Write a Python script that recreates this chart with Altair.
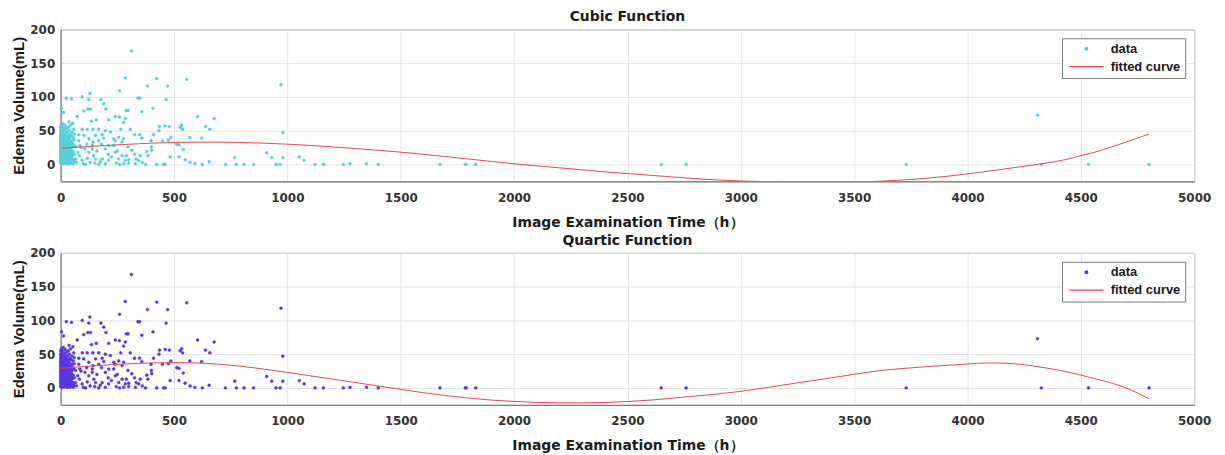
import altair as alt
import pandas as pd

# ---- scatter data (image examination time in h, edema volume in mL) ----
time_h = [
    # dense cluster near 0 h
    0, 0, 0, 0, 0, 0, 0, 0, 0, 0, 0, 0, 0, 0, 0, 0,
    2, 2, 2, 2, 2, 2, 3,
    4, 4, 4, 4, 4, 4, 4,
    6, 6, 6, 6, 6, 6,
    8, 8, 8, 8, 8, 8,
    10, 10, 10, 10, 10, 10,
    12, 12, 12, 12, 12,
    14, 14, 14, 14, 14,
    16, 16, 16, 16, 16,
    18, 18, 18, 18,
    20, 20, 20, 20, 20,
    22, 22, 22, 22,
    24, 24, 24, 24,
    26, 26, 26, 26,
    28, 28, 28, 28,
    30, 30, 30, 30, 30,
    32, 32, 32,
    34, 34, 34, 34, 34,
    36, 36, 36,
    38, 38, 38, 38, 38,
    40, 40, 40, 40,
    42, 42, 42,
    44, 44, 44, 44,
    46, 46, 46, 46,
    48, 48, 48,
    50, 50, 50,
    52, 52, 52,
    55, 55, 55,
    58, 58, 58,
    60, 60, 60,
    # upper / middle scattered points
    312, 285, 424, 556, 972, 260, 383, 472, 129, 25, 48, 95, 124, 178, 341, 348,
    465, 190, 4, 200, 102, 120, 132, 407, 290, 297, 13, 358, 604, 677, 259, 285,
    241, 157, 136, 73, 212, 278, 37, 54, 461, 436, 480, 534, 527, 538, 639, 658,
    307, 265, 117, 142, 168, 197, 219, 95, 434, 622, 570, 486, 449, 475, 399, 410,
    358, 348, 278, 326, 241, 980,
    # lower scattered points
    512, 522, 541, 483, 522, 549, 571, 592, 625, 655, 727, 768, 775, 809, 424, 454,
    461, 402, 400, 385, 380, 351, 344, 333, 326, 314, 297, 290, 300, 285, 278, 256,
    271, 234, 241, 224, 212, 197, 183, 168, 154, 146, 139, 124, 117, 107, 95, 83,
    66, 66, 80, 51, 124, 143, 154, 168, 183, 190, 102, 80, 197, 212, 234, 256, 271,
    60, 110, 130, 150, 175, 245, 260, 300, 330, 360, 375, 250, 210, 180, 160, 140,
    115, 90, 75, 70, 100, 85,
    # far points
    851, 909, 931, 950, 968, 980, 1053, 1074, 1122, 1159, 1247, 1276, 1349, 1401,
    1673, 1785, 1789, 1831, 2649, 2759, 3730, 4309, 4326, 4534, 4801,
]
volume_ml = [
    2, 5, 8, 12, 15, 18, 22, 25, 28, 32, 35, 38, 42, 45, 50, 55,
    3, 10, 20, 30, 40, 48, 58,
    1, 7, 14, 24, 33, 44, 52,
    4, 11, 19, 27, 36, 46,
    2, 9, 16, 29, 39, 55,
    6, 13, 22, 31, 42, 49,
    1, 18, 26, 35, 60,
    4, 10, 21, 28, 45,
    7, 15, 33, 40, 52,
    2, 12, 24, 37,
    5, 17, 29, 44, 57,
    9, 20, 34, 48,
    3, 14, 26, 39,
    7, 18, 31, 53,
    1, 11, 23, 42,
    5, 16, 28, 36, 47,
    9, 21, 33,
    2, 13, 25, 41, 55,
    7, 18, 30,
    4, 11, 22, 38, 50,
    1, 15, 27, 44,
    8, 19, 33,
    3, 12, 24, 58,
    6, 17, 30, 42,
    2, 21, 35,
    9, 26, 47,
    4, 14, 31,
    1, 19, 40,
    7, 28, 52,
    3, 15, 36,
    # upper / middle
    168, 128, 127, 126, 118, 109, 116, 116, 105, 98, 97, 100, 96, 96, 98, 98,
    96, 90, 83, 82, 79, 82, 82, 83, 80, 80, 77, 78, 71, 68, 70, 68,
    71, 66, 64, 71, 66, 62, 63, 61, 57, 56, 56, 58, 55, 52, 56, 52,
    52, 52, 52, 52, 52, 50, 48, 52, 50, 39, 40, 40, 35, 36, 35, 44,
    39, 44, 38, 44, 35, 47,
    # lower
    30, 29, 22, 11, 11, 7, 3, 1, 0, 4, 0, 10, 0, 0, 0, 0,
    0, 21, 26, 13, 19, 13, 6, 8, 15, 21, 26, 13, 7, 6, 1, 8,
    13, 28, 18, 11, 6, 1, 8, 0, 8, 13, 23, 18, 9, 23, 6, 13,
    8, 26, 35, 16, 38, 33, 43, 35, 44, 39, 43, 44, 23, 28, 38, 40, 33,
    45, 0, 3, 2, 4, 2, 0, 2, 1, 3, 0, 20, 15, 30, 20, 28,
    30, 25, 18, 3, 1, 28,
    # far
    0, 17, 10, 0, 0, 10, 11, 6, 0, 0, 0, 1, 1, 0,
    0, 0, 0, 0, 0, 0, 0, 73, 0, 0, 0,
]

# ---- fitted curves ----
cubic_h = [0, 200, 400, 600, 800, 1000, 1200, 1400, 1600, 1800, 2000, 2200, 2400,
           2600, 2800, 3000, 3200, 3400, 3600, 3800, 4000, 4200, 4400, 4500, 4600, 4801]
cubic_v = [24, 28, 31.5, 33, 32.5, 30, 26, 21, 15, 8, 1, -5, -11,
           -16, -21, -24.5, -26, -26.5, -25, -21, -14, -5, 5, 13, 22, 45]
quartic_h = [0, 200, 400, 600, 800, 1000, 1200, 1400, 1600, 1800, 2000, 2200, 2400,
             2600, 2800, 3000, 3200, 3400, 3600, 3800, 4000, 4100, 4200, 4300, 4400,
             4500, 4600, 4700, 4801]
quartic_v = [29, 34, 37, 37, 32, 23, 13, 3, -7, -15, -20, -22, -21.5,
             -18, -12, -5, 5, 15, 25, 31, 35.5, 37, 36, 32, 26.5,
             19, 10.5, 0, -16]

series = ["data", "fitted curve"]
RED = "#e5474c"
FONT = "Liberation Sans"
WIDE = "DejaVu Sans"

pts = pd.DataFrame({"t": time_h, "v": volume_ml, "series": "data"})


def panel(title, color, ch, cv):
    fit = pd.DataFrame({"t": ch, "v": cv})
    x = alt.X("t:Q", scale=alt.Scale(domain=[0, 5000], nice=False),
              axis=alt.Axis(title="Image Examination Time（h）", values=list(range(0, 5001, 500)),
                            format="d", labelFlush=False))
    y = alt.Y("v:Q", scale=alt.Scale(domain=[-25, 200], nice=False),
              axis=alt.Axis(title="Edema Volume(mL)", values=[0, 50, 100, 150, 200], format="d",
                            labelFlush=False))
    leg = alt.Legend(title=None, orient="top-right", offset=9)
    dom = alt.Scale(domain=series, range=[color, RED])
    points = alt.Chart(pts).mark_point(filled=True, opacity=1, strokeWidth=0.6).encode(
        x=x, y=y,
        fill=alt.Fill("series:N", scale=dom, legend=leg),
        stroke=alt.Stroke("series:N", scale=dom, legend=leg),
        shape=alt.Shape("series:N", scale=alt.Scale(domain=series, range=["circle", "M-2.3,0H2.3"]),
                        legend=leg),
        size=alt.Size("series:N", scale=alt.Scale(type="ordinal", domain=series, range=[8, 225]),
                      legend=leg),
    )
    line = alt.Chart(fit).mark_line(color=RED, strokeWidth=1, clip=True, interpolate="natural").encode(x=x, y=y)
    return alt.layer(points, line).properties(
        width=1141, height=153,
        title=alt.Title(title, fontSize=14, fontWeight="bold", font=WIDE, color="#1a1a1a", offset=-1),
    )


chart = alt.vconcat(
    panel("Cubic Function", "#55d0d8", cubic_h, cubic_v),
    panel("Quartic Function", "#5a35e6", quartic_h, quartic_v),
    spacing=3,
).resolve_scale(
    fill="independent", stroke="independent", shape="independent", size="independent"
).resolve_legend(
    fill="independent", stroke="independent", shape="independent", size="independent"
).properties(
    padding={"left": 3, "top": 0, "right": 5, "bottom": 0}
).configure_view(
    stroke="#7a7a7a", strokeWidth=1
).configure_axis(
    labelFont=WIDE, titleFont=WIDE, labelFontSize=12, titleFontSize=14,
    labelFontWeight="bold", titleFontWeight="bold", labelColor="#333333", titleColor="#1a1a1a",
    gridColor="#e3e3e3", domainColor="#7a7a7a", ticks=False,
).configure_axisX(
    titlePadding=12, labelPadding=11,
).configure_axisY(
    titleFont=FONT, titleFontSize=15, titlePadding=3, labelPadding=6,
).configure_legend(
    labelFont=FONT, labelFontSize=13, labelFontWeight="bold", labelColor="#1a1a1a",
    strokeColor="#7a7a7a", fillColor="white", padding=4, symbolStrokeWidth=1.2,
    rowPadding=2, labelOffset=16, symbolOffset=12,
)

chart.save("out.html", embed_options={"renderer": "svg", "actions": False})
